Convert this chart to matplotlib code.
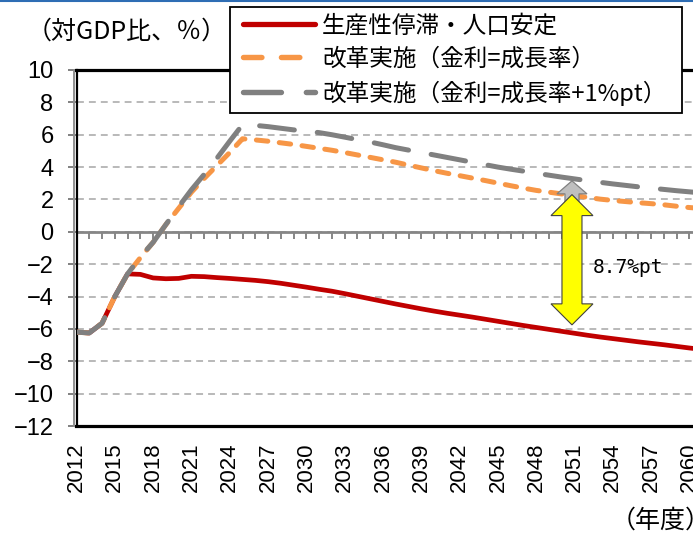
import matplotlib
matplotlib.use("Agg")
import matplotlib.pyplot as plt
from matplotlib.lines import Line2D
from matplotlib.patches import Polygon
from matplotlib.legend_handler import HandlerLine2D
import matplotlib.transforms as mtransforms

plt.rcParams['font.family'] = ['Liberation Sans', 'Noto Sans CJK JP', 'DejaVu Sans']
plt.rcParams['axes.unicode_minus'] = True

# ---------------- data ----------------
years = list(range(2012, 2063))
series_names = ["生産性停滞・人口安定",
                "改革実施（金利=成長率）",
                "改革実施（金利=成長率+1%pt）"]
stagnation = [-6.20, -6.25, -5.65, -4.00, -2.60, -2.63, -2.85, -2.90, -2.88, -2.75,
              -2.77, -2.83, -2.88, -2.94, -3.00, -3.08, -3.18, -3.30, -3.42, -3.55,
              -3.67, -3.82, -3.98, -4.14, -4.30, -4.46, -4.61, -4.76, -4.90, -5.03,
              -5.15, -5.27, -5.40, -5.53, -5.66, -5.79, -5.91, -6.03, -6.15, -6.27,
              -6.39, -6.50, -6.60, -6.70, -6.80, -6.89, -6.98, -7.08, -7.18, -7.27,
              -7.35]
reform_eq = [-6.20, -6.25, -5.65, -4.00, -2.60, -1.60, -0.65, 0.45, 1.45, 2.45,
             3.30, 4.10, 4.90, 5.75, 5.68, 5.60, 5.50, 5.40, 5.28, 5.16,
             5.04, 4.90, 4.75, 4.60, 4.45, 4.30, 4.12, 3.95, 3.78, 3.62,
             3.47, 3.32, 3.17, 3.01, 2.85, 2.70, 2.56, 2.45, 2.34, 2.24,
             2.13, 2.02, 1.94, 1.87, 1.80, 1.74, 1.67, 1.58, 1.50, 1.44,
             1.38]
reform_p1 = [-6.20, -6.25, -5.65, -4.00, -2.60, -1.55, -0.65, 0.45, 1.55, 2.60,
             3.55, 4.55, 5.60, 6.62, 6.58, 6.50, 6.40, 6.30, 6.22, 6.13,
             6.00, 5.85, 5.70, 5.55, 5.38, 5.20, 5.05, 4.90, 4.75, 4.60,
             4.45, 4.30, 4.15, 4.00, 3.87, 3.75, 3.62, 3.50, 3.38, 3.27,
             3.16, 3.06, 2.96, 2.87, 2.78, 2.70, 2.62, 2.54, 2.47, 2.40,
             2.34]
label_years = list(range(2012, 2064, 3))
y_ticks = list(range(-12, 11, 2))
gap_label = "8.7%pt"
gap_year = 2050.8
gap_top = 2.30
gap_bottom = -5.75
gray_arrow_tip = 3.15
y_unit_label = "（対GDP比、％）"
x_unit_label = "（年度）"

# ---------------- figure ----------------
W, H = 693, 535
fig = plt.figure(figsize=(W / 100, H / 100), dpi=100)
fig.patch.set_facecolor('white')

left_px, top_px, bottom_px = 76.5, 70, 426
px_per_year = 12.77
xmin, xmax = 2012, 2065
ax = fig.add_axes([left_px / W, 1 - bottom_px / H,
                   (xmax - xmin) * px_per_year / W, (bottom_px - top_px) / H])
ax.set_xlim(xmin, xmax)
ax.set_ylim(-12, 10)

RED = '#C00000'
ORANGE = '#F79646'
GRAY = '#808080'

ax.plot(years, stagnation, color=RED, lw=3.4, solid_capstyle='round', zorder=3)
ax.plot(years, reform_eq, color=ORANGE, lw=3.6, linestyle=(0, (2.3, 2.3)),
        dash_capstyle='round', zorder=4)
ax.plot(years, reform_p1, color=GRAY, lw=3.6, linestyle=(0, (7, 4.6)),
        dash_capstyle='round', zorder=5)

# grid
ax.set_yticks(y_ticks)
ax.yaxis.grid(True, color='#A6A6A6', lw=1.1, linestyle=(0, (4.5, 3.3)))
ax.xaxis.grid(False)
ax.set_axisbelow(True)

# zero axis with year ticks
ax.axhline(0, color='#868686', lw=2.0, zorder=2)
ax.plot(list(range(2013, 2066)), [0] * len(range(2013, 2066)), ls='none',
        marker=3, ms=5, mew=1.4, color='#868686', zorder=2)

# spines
for s in ['top', 'bottom']:
    ax.spines[s].set_color('black')
    ax.spines[s].set_linewidth(2.3)
ax.spines['left'].set_color('black')
ax.spines['left'].set_linewidth(1.6)
ax.spines['right'].set_visible(False)
off = mtransforms.offset_copy(ax.transAxes, fig=fig, x=-2.2, y=0, units='dots')
ax.add_line(Line2D([0, 0], [0, 1], transform=off, color='#909090', lw=1.4,
                   clip_on=False, zorder=6))

ax.tick_params(axis='y', direction='out', length=6.5, width=1.4, color='#808080',
               pad=10, labelsize=17)
ax.set_xticks(label_years)
ax.set_xticklabels([str(y) for y in label_years], rotation=90)
ax.tick_params(axis='x', length=0, pad=12, labelsize=16)

# arrows (built in pixel units around data anchors)
def disp(x, y):
    return ax.transData.transform((x, y))

xc, yt = disp(gap_year, gap_top)
_, yb = disp(gap_year, gap_bottom)
_, ygt = disp(gap_year, gray_arrow_tip)
# gray up arrow
g_hw, g_sw, g_hl = 15, 7, 13
gray_pts = [(xc, ygt), (xc + g_hw, ygt - g_hl), (xc + g_sw, ygt - g_hl),
            (xc + g_sw, ygt - 40), (xc - g_sw, ygt - 40), (xc - g_sw, ygt - g_hl),
            (xc - g_hw, ygt - g_hl)]
ax.add_patch(Polygon(gray_pts, closed=True, transform=None, facecolor='#BFBFBF',
                     edgecolor='#808080', lw=0.9, zorder=6, clip_on=False))
# yellow double arrow
hw, sw, hl = 21, 10, 21
yel_pts = [(xc, yt), (xc + hw, yt - hl), (xc + sw, yt - hl), (xc + sw, yb + hl),
           (xc + hw, yb + hl), (xc, yb), (xc - hw, yb + hl), (xc - sw, yb + hl),
           (xc - sw, yt - hl), (xc - hw, yt - hl)]
ax.add_patch(Polygon(yel_pts, closed=True, transform=None, facecolor='#FFFF00',
                     edgecolor='#404040', lw=0.8, zorder=7, clip_on=False))
ax.text(2052.4, -2.2, gap_label, fontsize=14, family='DejaVu Sans Mono',
        ha='left', va='center', zorder=8)

# texts
fig.text(27 / W, 1 - 32 / H, y_unit_label, fontsize=18, family=['Noto Sans CJK JP'],
         ha='left', va='center')
fig.text(611 / W, 1 - 521 / H, x_unit_label, fontsize=18, family=['Noto Sans CJK JP'],
         ha='left', va='center')

# legend
leg_fs = 17
em = leg_fs * 100 / 72.0
bp = 0.3
handles = [Line2D([], [], color=RED, lw=3.8, solid_capstyle='round'),
           Line2D([], [], color=ORANGE, lw=3.9, linestyle=(0, (3.4, 3.6)),
                  dash_capstyle='round'),
           Line2D([], [], color=GRAY, lw=3.9, linestyle=(0, (7, 4.6)),
                  dash_capstyle='round')]
xpad_px = 13 - bp * em
leg = fig.legend(handles, series_names, loc='upper left',
                 bbox_to_anchor=(230 / W, 1 - 111 / H, 452 / W, 104 / H),
                 mode='expand', borderaxespad=0, fancybox=False, framealpha=1,
                 edgecolor='black', handlelength=(72 + xpad_px) / em,
                 handletextpad=7 / em, borderpad=bp, labelspacing=0.43,
                 handler_map={Line2D: HandlerLine2D(xpad=xpad_px / em)},
                 prop={'family': ['Noto Sans CJK JP'], 'size': leg_fs})
leg.get_frame().set_linewidth(1.3)

# top blue rule
fig.add_artist(Line2D([0, 1], [1 - 1 / H, 1 - 1 / H], transform=fig.transFigure,
                      color='#2E6DB4', lw=1.5))

fig.savefig('out.png', dpi=100)
